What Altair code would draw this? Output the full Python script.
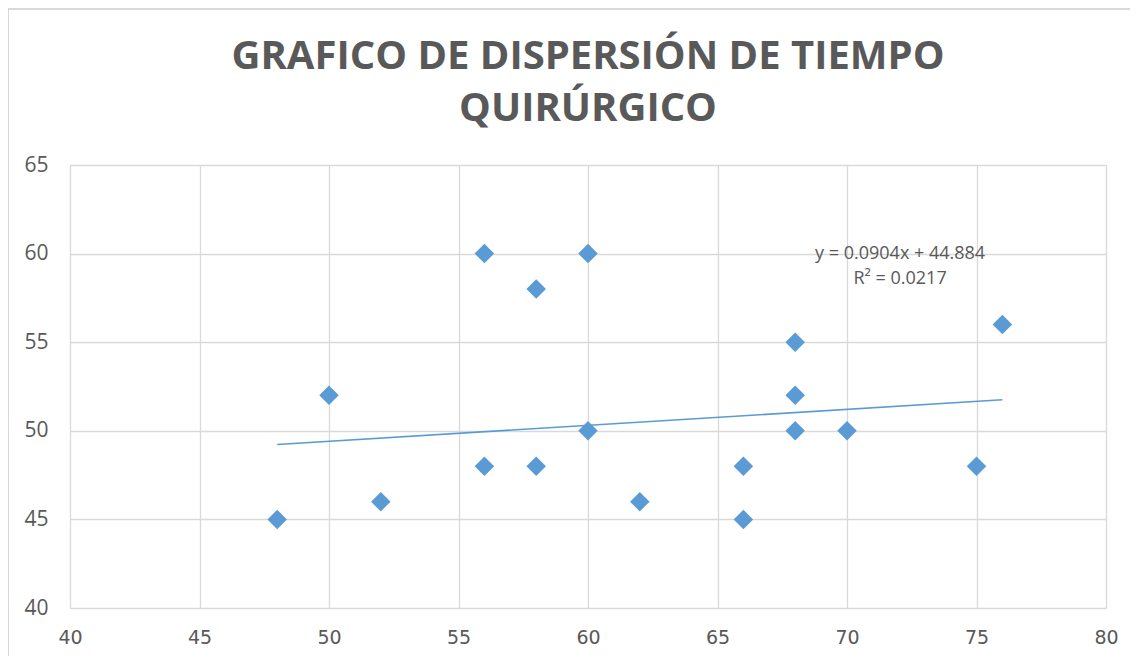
import altair as alt
import pandas as pd

# Data
x_vals = [48, 50, 52, 56, 56, 58, 58, 60, 60, 62, 66, 66, 68, 68, 68, 70, 75, 76]
y_vals = [45, 52, 46, 60, 48, 58, 48, 60, 50, 46, 48, 45, 55, 52, 50, 50, 48, 56]

# Trendline as printed on the chart
slope = 0.0904
intercept = 44.884
trend_x = [48, 76]
eq_lines = ["y = 0.0904x + 44.884", "R² = 0.0217"]
eq_x = [72.05, 72.05]
eq_y = [60.0, 58.55]

title_lines = ["GRAFICO DE DISPERSIÓN DE TIEMPO", "QUIRÚRGICO"]

x_ticks = [40, 45, 50, 55, 60, 65, 70, 75, 80]
y_ticks = [40, 45, 50, 55, 60, 65]

BLUE = "#5B9BD5"
GREY = "#595959"
GRID = "#D9D9D9"

pts = pd.DataFrame({"x": x_vals, "y": y_vals})
trend = pd.DataFrame({"x": trend_x, "y": [slope * v + intercept for v in trend_x]})
eq = pd.DataFrame({"x": eq_x, "y": eq_y, "t": eq_lines})
ttl = pd.DataFrame({"t": ["\n".join(title_lines)]})

xs = alt.Scale(domain=[40, 80], nice=False)
ys = alt.Scale(domain=[40, 65], nice=False)

xax = alt.Axis(values=x_ticks, title=None, grid=True, gridColor=GRID, gridWidth=1.3,
               domain=False, ticks=False, labelFont="DejaVu Sans", labelFontSize=19,
               labelColor=GREY, labelPadding=20, labelFlush=False)
yax = alt.Axis(values=y_ticks, title=None, grid=True, gridColor=GRID, gridWidth=1.3,
               domain=False, ticks=False, labelFont="Open Sans", labelFontSize=21,
               labelColor=GREY, labelPadding=22, labelFlush=False)

base = alt.Chart(pts)

points = base.mark_point(shape="diamond", filled=True, size=380, color=BLUE, opacity=1).encode(
    x=alt.X("x:Q", scale=xs, axis=xax),
    y=alt.Y("y:Q", scale=ys, axis=yax),
)

line = alt.Chart(trend).mark_line(color=BLUE, strokeWidth=1.6).encode(
    x=alt.X("x:Q", scale=xs),
    y=alt.Y("y:Q", scale=ys),
)

text = alt.Chart(eq).mark_text(font="Open Sans", fontSize=18, color=GREY).encode(
    x=alt.X("x:Q", scale=xs),
    y=alt.Y("y:Q", scale=ys),
    text="t:N",
)

title = alt.Chart(ttl).mark_text(
    font="Open Sans", fontSize=40, fontWeight="bold", color=GREY,
    lineBreak="\n", lineHeight=52, align="center", baseline="alphabetic", clip=False,
).encode(x=alt.value(518), y=alt.value(-96), text="t:N")

frame = alt.Chart(ttl).mark_rect(fill=None, stroke=GRID, strokeWidth=2, clip=False).encode(
    x=alt.value(-62), x2=alt.value(1200), y=alt.value(-156), y2=alt.value(600)
)

chart = alt.layer(frame, line, points, text, title).properties(
    width=1036,
    height=443,
    autosize=alt.AutoSizeParams(type="none"),
    padding={"left": 62, "top": 157, "right": 24, "bottom": 48},
).configure_view(stroke=GRID, strokeWidth=1.3).configure(background="white")

chart.save("out.html", embed_options={"renderer": "svg", "actions": False})
